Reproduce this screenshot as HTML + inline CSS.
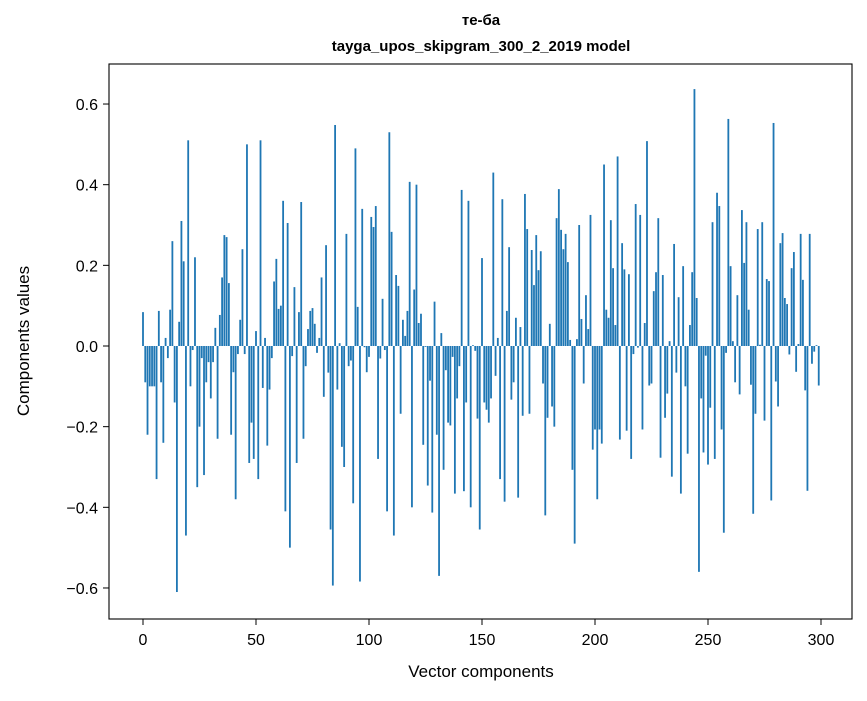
<!DOCTYPE html>
<html><head><meta charset="utf-8"><style>
body{margin:0;background:#fff;}
svg text{font-family:"Liberation Sans","DejaVu Sans",sans-serif;fill:#000;}
</style></head><body>
<svg id="chart" width="867" height="696" xmlns="http://www.w3.org/2000/svg">
<rect width="867" height="696" fill="#fff"/>
<text x="481" y="25" text-anchor="middle" font-size="15" font-weight="bold">те-ба</text>
<text x="481" y="51" text-anchor="middle" font-size="15" font-weight="bold">tayga_upos_skipgram_300_2_2019 model</text>
<g id="bars"></g>
<g id="axes"></g>
<rect x="109" y="64" width="743" height="555" fill="none" stroke="#000" stroke-width="1.1"/>
<text x="481" y="677" text-anchor="middle" font-size="17">Vector components</text>
<text transform="translate(29,341) rotate(-90)" text-anchor="middle" font-size="17">Components values</text>
</svg>
<script>
const values = [
0.084,-0.09,-0.22,-0.10,-0.10,-0.10,-0.33,0.087,-0.09,-0.24,
0.02,-0.03,0.09,0.26,-0.14,-0.61,0.06,0.31,0.21,-0.47,
0.51,-0.10,-0.01,0.22,-0.35,-0.20,-0.03,-0.32,-0.09,-0.04,
-0.13,-0.04,0.045,-0.23,0.077,0.17,0.275,0.27,0.156,-0.22,
-0.065,-0.38,-0.02,0.065,0.24,-0.02,0.50,-0.29,-0.19,-0.28,
0.037,-0.33,0.51,-0.104,0.02,-0.247,-0.108,-0.03,0.16,0.216,
0.092,0.10,0.36,-0.41,0.305,-0.50,-0.025,0.146,-0.29,0.084,
0.357,-0.23,-0.05,0.042,0.087,0.094,0.055,-0.017,0.02,0.17,
-0.126,0.25,-0.066,-0.455,-0.594,0.548,-0.108,0.007,-0.25,-0.30,
0.278,-0.05,-0.036,-0.39,0.49,0.097,-0.584,0.34,-0.003,-0.065,
-0.027,0.32,0.295,0.347,-0.28,-0.031,0.117,-0.01,-0.41,0.53,
0.283,-0.47,0.176,0.149,-0.168,0.065,0.025,0.087,0.407,-0.40,
0.14,0.40,0.057,0.08,-0.245,-0.002,-0.346,-0.086,-0.413,0.11,
-0.22,-0.57,0.032,-0.307,-0.06,-0.19,-0.197,-0.027,-0.366,-0.13,
-0.05,0.387,-0.36,-0.14,0.36,-0.40,0.002,-0.012,-0.18,-0.455,
0.218,-0.14,-0.158,-0.19,-0.13,0.43,-0.074,0.02,-0.33,0.364,
-0.386,0.087,0.245,-0.133,-0.09,0.07,-0.376,0.047,-0.173,0.377,
0.29,-0.168,0.238,0.151,0.275,0.188,0.235,-0.093,-0.42,-0.178,
0.055,-0.15,-0.20,0.317,0.389,0.288,0.24,0.278,0.208,0.015,
-0.307,-0.49,0.017,0.30,0.067,-0.093,0.126,0.042,0.325,-0.257,
-0.207,-0.38,-0.207,-0.242,0.45,0.09,0.07,0.312,0.193,0.052,
0.47,-0.232,0.255,0.19,-0.21,0.178,-0.28,-0.02,0.352,-0.004,
0.325,-0.207,0.057,0.508,-0.098,-0.093,0.136,0.183,0.317,-0.277,
0.176,-0.178,-0.118,0.012,-0.324,0.253,-0.066,0.121,-0.366,0.198,
-0.10,-0.267,0.052,0.183,0.637,0.119,-0.56,-0.13,-0.264,-0.024,
-0.294,-0.153,0.307,-0.28,0.38,0.347,-0.207,-0.463,-0.017,0.563,
0.198,0.012,-0.09,0.126,-0.12,0.337,0.206,0.307,0.09,-0.096,
-0.416,-0.168,0.29,0.003,0.307,-0.185,0.166,0.161,-0.383,0.553,
-0.088,-0.15,0.255,0.28,0.119,0.104,-0.021,0.193,0.233,-0.064,
0.005,0.278,0.164,-0.11,-0.359,0.278,-0.044,-0.014,0.002,-0.098
];
const xTicks = [0,50,100,150,200,250,300];
const yTicks = [-0.6,-0.4,-0.2,0.0,0.2,0.4,0.6];
const NS="http://www.w3.org/2000/svg";
function xs(v){return 143 + v*2.26;}
function ys(v){return 346 - v*403.3;}
const bars=document.getElementById('bars');
values.forEach((v,i)=>{
  const r=document.createElementNS(NS,'rect');
  const x0=xs(i-0.4), x1=xs(i+0.4);
  r.setAttribute('x',x0);
  r.setAttribute('width',x1-x0);
  r.setAttribute('y',Math.min(ys(v),ys(0)));
  r.setAttribute('height',Math.abs(ys(v)-ys(0)));
  r.setAttribute('fill','#1f77b4');
  
  
  bars.appendChild(r);
});
const axes=document.getElementById('axes');
xTicks.forEach(t=>{
  const l=document.createElementNS(NS,'line');
  l.setAttribute('x1',xs(t));l.setAttribute('x2',xs(t));
  l.setAttribute('y1',619);l.setAttribute('y2',625);
  l.setAttribute('stroke','#000');
  
  
  axes.appendChild(l);
  const tx=document.createElementNS(NS,'text');
  tx.setAttribute('x',xs(t));tx.setAttribute('y',645);
  tx.setAttribute('text-anchor','middle');tx.setAttribute('font-size','16');
  tx.textContent=t;
  
  
  axes.appendChild(tx);
});
yTicks.forEach(t=>{
  const l=document.createElementNS(NS,'line');
  l.setAttribute('x1',103);l.setAttribute('x2',109);
  l.setAttribute('y1',ys(t));l.setAttribute('y2',ys(t));
  l.setAttribute('stroke','#000');
  
  
  axes.appendChild(l);
  const tx=document.createElementNS(NS,'text');
  tx.setAttribute('x',98);tx.setAttribute('y',ys(t)+6);
  tx.setAttribute('text-anchor','end');tx.setAttribute('font-size','16');
  tx.textContent=(t<0?'\u2212':'')+Math.abs(t).toFixed(1);
  
  
  axes.appendChild(tx);
});
</script>
</body></html>
